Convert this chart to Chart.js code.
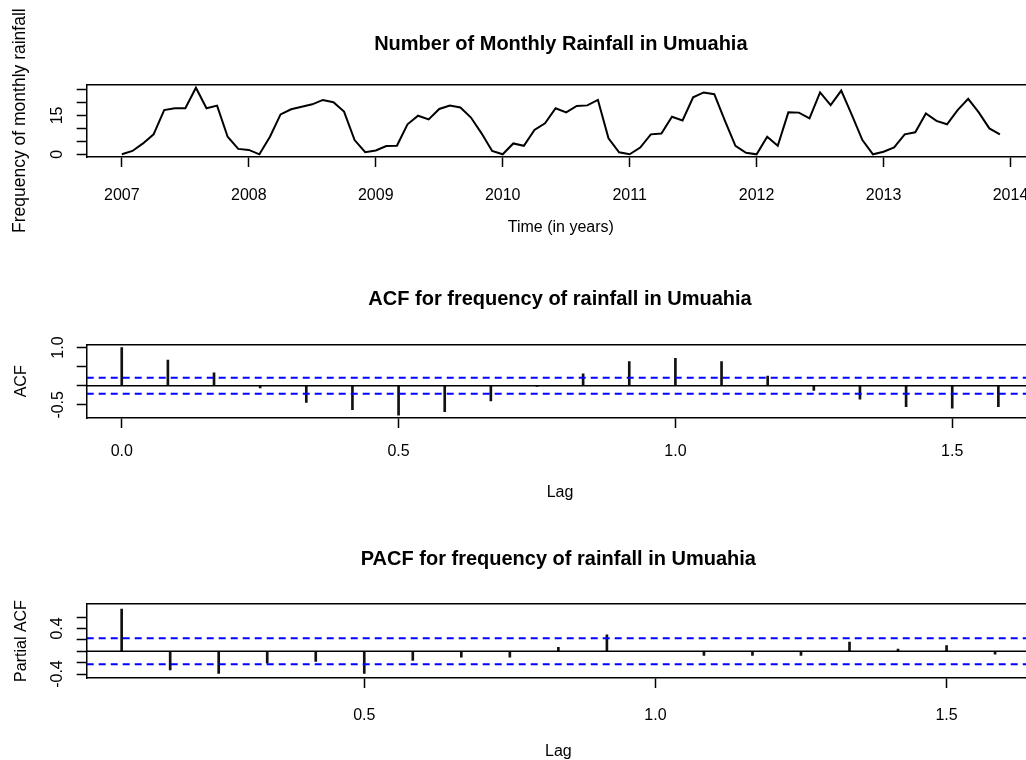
<!DOCTYPE html>
<html><head><meta charset="utf-8">
<script src="https://cdn.jsdelivr.net/npm/chart.js@4.4.0/dist/chart.umd.min.js"></script>
<style>
html,body{margin:0;padding:0;background:#fff;overflow:hidden;width:1026px;height:760px;}
canvas.p{position:absolute;left:0;}
</style></head><body>
<canvas id="c1" class="p" style="top:0px" width="1100" height="253"></canvas>
<canvas id="c2" class="p" style="top:253px" width="1100" height="253"></canvas>
<canvas id="c3" class="p" style="top:506px" width="1100" height="262"></canvas>
<script>
// ---------------- data ----------------
const startYear = 2007;
const monthsPerYear = 12;
const rainfall = [
  0, 1.3, 4.2, 7.7, 17.1, 17.8, 17.8, 25.7, 17.8, 18.8, 6.8, 2.1,
  1.7, 0, 6.8, 15.4, 17.4, 18.4, 19.3, 21.0, 20.1, 16.5, 5.5, 0.8,
  1.5, 3.2, 3.3, 11.6, 14.9, 13.5, 17.5, 18.8, 18.1, 14.2, 8.1, 1.3,
  0, 4.2, 3.3, 9.4, 12.0, 17.8, 16.2, 18.7, 18.9, 21.0, 6.2, 0.8,
  0, 2.6, 7.7, 8.0, 14.5, 13.1, 22.0, 23.9, 23.2, 13.0, 3.3, 0.6,
  0, 6.8, 3.3, 16.2, 16.1, 13.9, 23.9, 19.0, 24.6, 15.2, 5.5, 0,
  1.0, 2.7, 7.7, 8.5, 15.8, 12.9, 11.6, 17.1, 21.4, 16.2, 10.0, 7.7
];
const yearTicks = [2007, 2008, 2009, 2010, 2011, 2012, 2013, 2014];
const yearLabels = ['2007', '2008', '2009', '2010', '2011', '2012', '2013', '2014'];
const rainYTicks = [0, 5, 10, 15, 20, 25];
const rainYLabels = ['0', '', '', '15', '', ''];

const acfLagIndex = [0,1,2,3,4,5,6,7,8,9,10,11,12,13,14,15,16,17,18,19];
const acfValues = [1.0, 0.67, 0.34, -0.06, -0.44, -0.63, -0.77, -0.68, -0.40, -0.02,
                   0.31, 0.63, 0.72, 0.63, 0.25, -0.12, -0.35, -0.55, -0.59, -0.55];
const acfCI = 0.21;
const acfXTicks = [0, 0.5, 1.0, 1.5];
const acfXLabels = ['0.0', '0.5', '1.0', '1.5'];
const acfYTicks = [-0.5, 0, 0.5, 1.0];
const acfYLabels = ['-0.5', '', '', '1.0'];

const pacfLagIndex = [1,2,3,4,5,6,7,8,9,10,11,12,13,14,15,16,17,18,19];
const pacfValues = [0.74, -0.33, -0.39, -0.21, -0.18, -0.39, -0.16, -0.105, -0.105, 0.07,
                    0.29, 0.0, -0.075, -0.075, -0.075, 0.16, 0.04, 0.10, -0.05];
const pacfCI = 0.228;
const pacfXTicks = [0.5, 1.0, 1.5];
const pacfXLabels = ['0.5', '1.0', '1.5'];
const pacfYTicks = [-0.4, -0.2, 0, 0.2, 0.4, 0.6];
const pacfYLabels = ['-0.4', '', '', '', '0.4', ''];

// ---------------- styling helpers ----------------
const FONT = "'Liberation Sans', Arial, sans-serif";
const CW = 1100;

function xAxis(o) {
  return {
    type: 'linear', position: 'bottom', min: o.min, max: o.max, offset: false,
    afterBuildTicks: s => { s.ticks = o.ticks.map(v => ({ value: v })); },
    afterFit: s => { s.height = o.height; },
    ticks: { autoSkip: false, maxRotation: 0, minRotation: 0, padding: o.tickPad, color: '#000',
             font: { family: FONT, size: 16 }, callback: (v, i) => o.labels[i] },
    grid: { drawOnChartArea: false, drawTicks: true, tickLength: 10, tickWidth: 1.5, tickColor: '#000', offset: false },
    border: { display: true, color: '#000', width: 1.5 },
    title: { display: true, text: o.title, color: '#000', font: { family: FONT, size: 16 },
             padding: { top: 0, bottom: o.titlePad } }
  };
}
function yAxis(o) {
  return {
    type: 'linear', position: 'left', min: o.min, max: o.max,
    afterBuildTicks: s => { s.ticks = o.ticks.map(v => ({ value: v })); },
    afterFit: s => { s.width = 86.7; },
    ticks: { autoSkip: false, minRotation: 90, maxRotation: 90, crossAlign: 'center', padding: o.tickPad,
             color: '#000', font: { family: FONT, size: 16 }, callback: (v, i) => o.labels[i] },
    grid: { drawOnChartArea: false, drawTicks: true, tickLength: 10, tickWidth: 1.5, tickColor: '#000' },
    border: { display: true, color: '#000', width: 1.5 },
    title: { display: true, text: o.title, color: '#000', font: { family: FONT, size: o.titleSize || 16 },
             padding: { top: o.titlePad, bottom: 0 } }
  };
}
function topAxis(min, max) {
  return {
    type: 'linear', position: 'top', min, max, display: true,
    afterFit: s => { s.height = 0; },
    ticks: { display: false },
    grid: { drawOnChartArea: false, drawTicks: false },
    border: { display: true, color: '#000', width: 1.5 }
  };
}
function titleOpt(text, top, bottom) {
  return { display: true, text, fullSize: false, color: '#000',
           font: { family: FONT, size: 20, weight: 'bold' }, padding: { top, bottom } };
}
function hline(y, min, max, color, dash) {
  return { type: 'line', data: [{ x: min, y }, { x: max, y }], borderColor: color, borderWidth: dash ? 2 : 1.5,
           borderDash: dash || [], pointRadius: 0, xAxisID: 'x', yAxisID: 'y', order: 0 };
}
const common = { responsive: false, animation: false, devicePixelRatio: 1, events: [] };

// ---------------- panel 1: time series ----------------
const tsMin = 2006.723, tsMax = 2014.193;
new Chart(document.getElementById('c1'), {
  type: 'line',
  data: { datasets: [{
    data: rainfall.map((v, i) => ({ x: startYear + i / monthsPerYear, y: v })),
    borderColor: '#000', borderWidth: 2, pointRadius: 0, tension: 0, fill: false,
    xAxisID: 'x', yAxisID: 'y'
  }]},
  options: Object.assign({}, common, {
    layout: { padding: { left: 0, right: CW - 1035, top: 0, bottom: 0 } },
    plugins: { legend: { display: false }, tooltip: { enabled: false },
               title: titleOpt('Number of Monthly Rainfall in Umuahia', 32, 28.3) },
    scales: {
      x: xAxis({ min: tsMin, max: tsMax, ticks: yearTicks, labels: yearLabels, title: 'Time (in years)',
                 height: 96, tickPad: 19.4, titlePad: 15.4 }),
      y: yAxis({ min: -1.04, max: 27.04, ticks: rainYTicks, labels: rainYLabels,
                 title: 'Frequency of monthly rainfall', titleSize: 17.5, tickPad: 9.8, titlePad: 10 }),
      x2: topAxis(tsMin, tsMax)
    }
  })
});

// ---------------- panel 2: ACF ----------------
const acfMin = -0.0633, acfMax = 1.6466;
new Chart(document.getElementById('c2'), {
  type: 'bar',
  data: { datasets: [
    { type: 'bar', data: acfLagIndex.map((k, i) => ({ x: k / monthsPerYear, y: acfValues[i] })),
      backgroundColor: '#111', barThickness: 2, xAxisID: 'x', yAxisID: 'y', order: 1 },
    hline(0, acfMin, acfMax, '#000', null),
    hline(acfCI, acfMin, acfMax, '#0000ff', [7, 5]),
    hline(-acfCI, acfMin, acfMax, '#0000ff', [7, 5])
  ]},
  options: Object.assign({}, common, {
    layout: { padding: { left: 0, right: CW - 1033.4, top: 0, bottom: 0 } },
    plugins: { legend: { display: false }, tooltip: { enabled: false },
               title: titleOpt('ACF for frequency of rainfall in Umuahia', 34, 33.7) },
    scales: {
      x: xAxis({ min: acfMin, max: acfMax, ticks: acfXTicks, labels: acfXLabels, title: 'Lag',
                 height: 88, tickPad: 14.4, titlePad: 3.4 }),
      y: yAxis({ min: -0.845, max: 1.075, ticks: acfYTicks, labels: acfYLabels,
                 title: 'ACF', tickPad: 3.9, titlePad: 12.4 }),
      x2: topAxis(acfMin, acfMax)
    }
  })
});

// ---------------- panel 3: PACF ----------------
const pacfMin = 0.0233, pacfMax = 1.6433;
new Chart(document.getElementById('c3'), {
  type: 'bar',
  data: { datasets: [
    { type: 'bar', data: pacfLagIndex.map((k, i) => ({ x: k / monthsPerYear, y: pacfValues[i] })),
      backgroundColor: '#111', barThickness: 2, xAxisID: 'x', yAxisID: 'y', order: 1 },
    hline(0, pacfMin, pacfMax, '#000', null),
    hline(pacfCI, pacfMin, pacfMax, '#0000ff', [7, 5]),
    hline(-pacfCI, pacfMin, pacfMax, '#0000ff', [7, 5])
  ]},
  options: Object.assign({}, common, {
    layout: { padding: { left: 0, right: CW - 1030, top: 0, bottom: 0 } },
    plugins: { legend: { display: false }, tooltip: { enabled: false },
               title: titleOpt('PACF for frequency of rainfall in Umuahia', 41, 33) },
    scales: {
      x: xAxis({ min: pacfMin, max: pacfMax, ticks: pacfXTicks, labels: pacfXLabels, title: 'Lag',
                 height: 90, tickPad: 18.4, titlePad: 6.4 }),
      y: yAxis({ min: -0.47, max: 0.83, ticks: pacfYTicks, labels: pacfYLabels,
                 title: 'Partial ACF', tickPad: 5.4, titlePad: 12.4 }),
      x2: topAxis(pacfMin, pacfMax)
    }
  })
});
</script>
</body></html>
